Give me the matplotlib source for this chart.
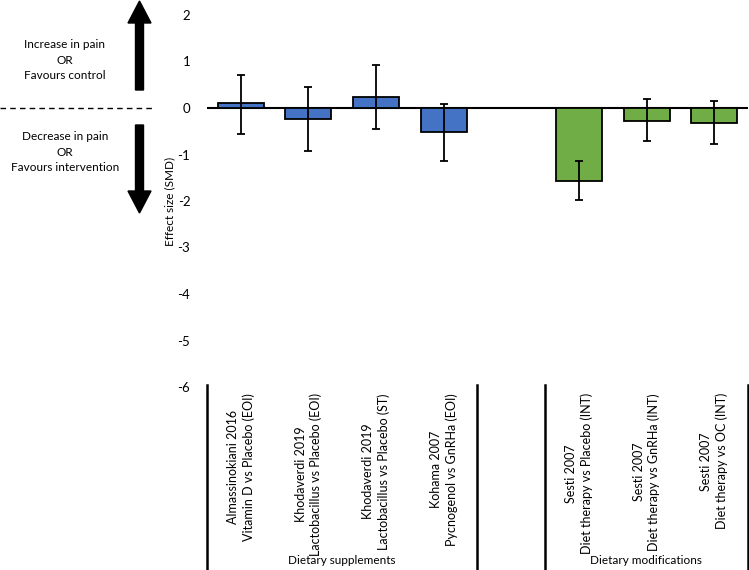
import matplotlib.pyplot as plt
from matplotlib.patches import FancyArrow

plt.rcParams["font.family"] = ["Lato", "DejaVu Sans"]

# Study comparisons (two-line labels) per group
supplement_labels = [
    "Almassinokiani 2016\nVitamin D vs Placebo (EOI)",
    "Khodaverdi 2019\nLactobacillus vs Placebo (EOI)",
    "Khodaverdi 2019\nLactobacillus vs Placebo (ST)",
    "Kohama 2007\nPycnogenol vs GnRHa (EOI)",
]
modification_labels = [
    "Sesti 2007\nDiet therapy vs Placebo (INT)",
    "Sesti 2007\nDiet therapy vs GnRHa (INT)",
    "Sesti 2007\nDiet therapy vs OC (INT)",
]
group_names = ["Dietary supplements", "Dietary modifications"]

# Effect sizes (SMD) and 95% CI bounds
supplement_smd = [0.10, -0.23, 0.24, -0.52]
supplement_lo = [-0.55, -0.92, -0.45, -1.13]
supplement_hi = [0.72, 0.46, 0.93, 0.09]

modification_smd = [-1.56, -0.27, -0.32]
modification_lo = [-1.98, -0.72, -0.77]
modification_hi = [-1.15, 0.19, 0.14]

y_ticks = [2, 1, 0, -1, -2, -3, -4, -5, -6]

BLUE = "#4472C4"
GREEN = "#70AD47"

W, H = 749, 570
fig = plt.figure(figsize=(W / 100, H / 100), dpi=100)
ax = fig.add_axes([207 / W, 1 - 387 / H, (748 - 207) / W, (387 - 15) / H])

# one empty slot between the two groups
pos_sup = list(range(len(supplement_smd)))
pos_mod = [len(supplement_smd) + 1 + i for i in range(len(modification_smd))]

for pos, smd, lo, hi, col in [
    (pos_sup, supplement_smd, supplement_lo, supplement_hi, BLUE),
    (pos_mod, modification_smd, modification_lo, modification_hi, GREEN),
]:
    ax.bar(pos, smd, width=0.68, color=col, edgecolor="black", linewidth=1.3, zorder=2)
    yerr = [[s - l for s, l in zip(smd, lo)], [h - s for s, h in zip(smd, hi)]]
    ax.errorbar(pos, smd, yerr=yerr, fmt="none", ecolor="black",
                elinewidth=1.3, capsize=3, capthick=1.3, zorder=3)

ax.axhline(0, color="black", linewidth=1.5, zorder=1)
n_slots = len(pos_sup) + 1 + len(pos_mod)
ax.set_xlim(-0.5, n_slots - 0.5)
ax.set_ylim(-6, 2)
ax.set_yticks(y_ticks)
ax.set_yticklabels([str(t) for t in y_ticks], fontsize=9.5)
ax.tick_params(axis="y", length=0, pad=12)
ax.set_xticks([])
for s in ax.spines.values():
    s.set_visible(False)
ax.set_ylabel("Effect size (SMD)", fontsize=8.5)
ax.yaxis.set_label_coords(-0.059, 0.5)

# category labels below the axis
for p, lab in zip(pos_sup + pos_mod, supplement_labels + modification_labels):
    ax.text(p, -6.13, lab, rotation=90, ha="center", va="top",
            multialignment="center", fontsize=9, linespacing=1.3)

# overlay in pixel coordinates for brackets and side notes
ov = fig.add_axes([0, 0, 1, 1])
ov.set_xlim(0, W)
ov.set_ylim(H, 0)
ov.axis("off")

for x in [207, 477, 545, 748]:
    ov.plot([x, x], [385, 570], color="black", linewidth=1.8)
ov.text(342, 561, group_names[0], ha="center", va="center", fontsize=8.5)
ov.text(646, 561, group_names[1], ha="center", va="center", fontsize=8.5)

ov.plot([0, 155], [108, 108], color="black", linewidth=1, linestyle=(0, (4, 3)))
ov.add_patch(FancyArrow(139.5, 90, 0, -89, width=8, head_width=23, head_length=22,
                        length_includes_head=True, color="black"))
ov.add_patch(FancyArrow(139.5, 125, 0, 88, width=8, head_width=23, head_length=22,
                        length_includes_head=True, color="black"))
ov.text(65, 60, "Increase in pain\nOR\nFavours control", ha="center", va="center",
        fontsize=8.5, linespacing=1.45)
ov.text(65, 152, "Decrease in pain\nOR\nFavours intervention", ha="center", va="center",
        fontsize=8.5, linespacing=1.45)

fig.savefig("out.png", dpi=100)
